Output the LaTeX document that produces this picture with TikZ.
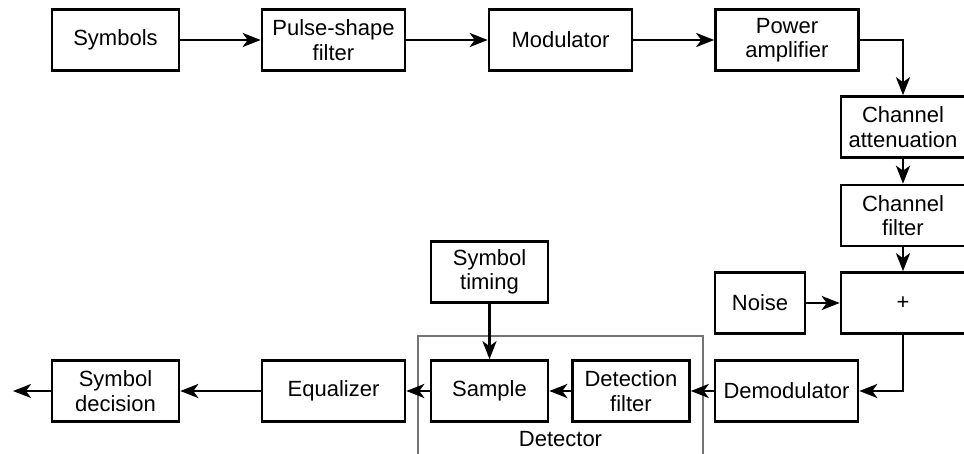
\documentclass[tikz,border=0pt]{standalone}
\usepackage{fontspec}
\setmainfont{Liberation Sans}
\usetikzlibrary{arrows.meta}
\begin{document}
\begin{tikzpicture}[x=1pt,y=-1pt,
  blk/.style={draw, line width=2.6pt, inner sep=0pt, align=center,
    font=\fontsize{22}{24.5}\selectfont, minimum height=61pt},
  wA/.style={minimum width=127pt},
  wB/.style={minimum width=143pt},
  wC/.style={minimum width=117pt},
  wD/.style={minimum width=124pt},
  ar/.style={line width=2.5pt, -{Stealth[length=18pt,width=14pt,inset=5pt]}},
  detbox/.style={draw=black!55, line width=1.1pt}]
\useasboundingbox (0,0) rectangle (964,454);
% top row
\node[blk,wA] (sym)   at (115.5,40) {Symbols};
\node[blk,wB] (pulse) at (333.5,40) {Pulse-shape\\filter};
\node[blk,wB] (mod)   at (560.5,40) {Modulator};
\node[blk,wB] (pa)    at (787,40)   {Power\\amplifier};
% right column
\node[blk,wD] (att)   at (903,127)  {Channel\\attenuation};
\node[blk,wD] (cf)    at (903,215.5){Channel\\filter};
\node[blk,wD] (plus)  at (903,303)  {+};
\node[blk,minimum width=90pt] (noise) at (760,303) {Noise};
% bottom row
\node[blk,wB] (demod) at (786.5,391) {Demodulator};
\node[blk,wC] (detf)  at (631,391)   {Detection\\filter};
\node[blk,wC] (samp)  at (489.5,391) {Sample};
\node[blk,wC] (tim)   at (489.5,272) {Symbol\\timing};
\node[blk,wB] (eq)    at (333.5,391) {Equalizer};
\node[blk,wA] (dec)   at (115.5,391) {Symbol\\decision};
\coordinate (out) at (13,391);
% detector box
\draw[detbox] (418,460) -- (418,336) -- (703,336) -- (703,460);
\node[font=\fontsize{22}{24.5}\selectfont] (detl) at (560.5,439) {Detector};
% connectors
\draw[ar] (sym) -- (pulse);
\draw[ar] (pulse) -- (mod);
\draw[ar] (mod) -- (pa);
\draw[ar] (pa.east) -| (att.north);
\draw[ar] (att) -- (cf);
\draw[ar] (cf) -- (plus);
\draw[ar] (noise) -- (plus);
\draw[ar] (plus.south) |- (demod.east);
\draw[ar] (demod) -- (detf);
\draw[ar] (detf) -- (samp);
\draw[ar] (tim) -- (samp);
\draw[ar] (samp) -- (eq);
\draw[ar] (eq) -- (dec);
\draw[ar] (dec) -- (out);
\end{tikzpicture}
\end{document}
